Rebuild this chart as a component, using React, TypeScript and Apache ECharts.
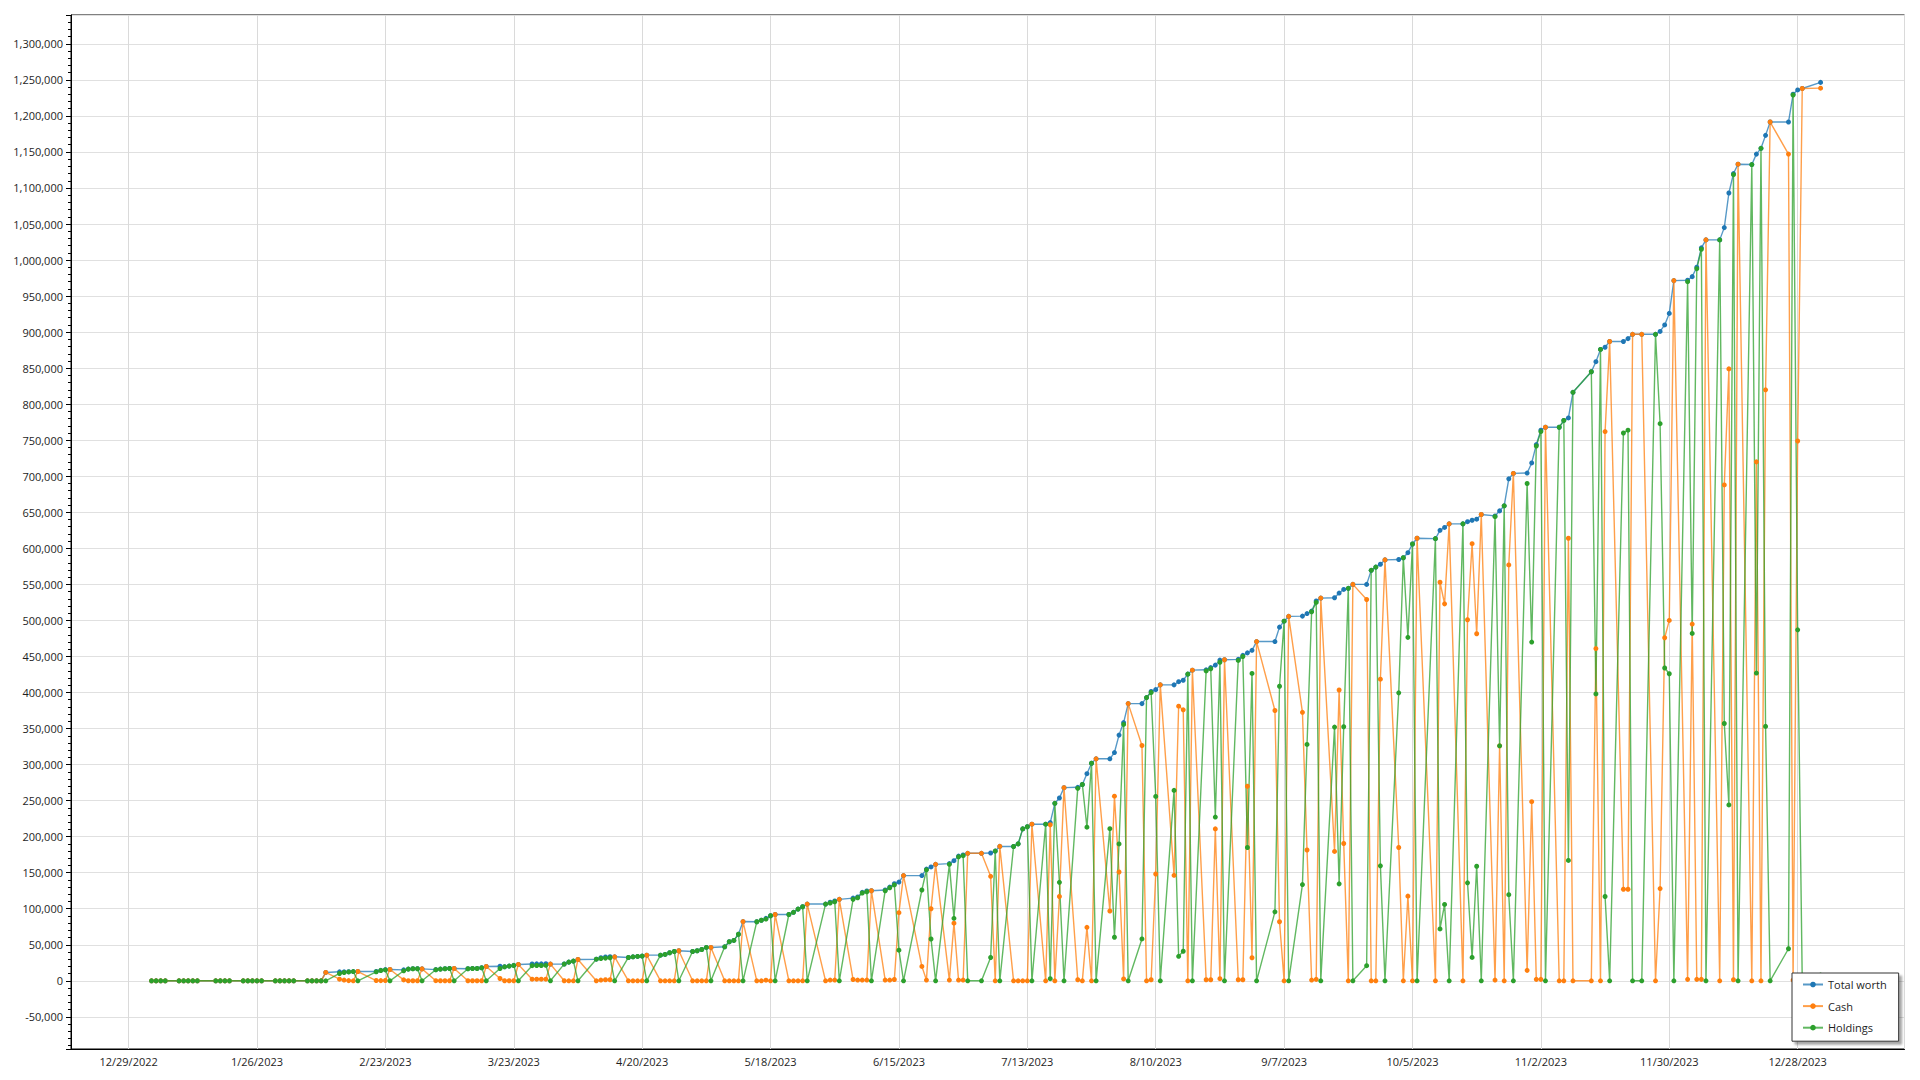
import React, { useEffect, useRef } from "react";
import * as echarts from "echarts";

// Trading days shown in the chart
const dates: string[] = [
  "1/3/2023", "1/4/2023", "1/5/2023", "1/6/2023",
  "1/9/2023", "1/10/2023", "1/11/2023", "1/12/2023", "1/13/2023",
  "1/17/2023", "1/18/2023", "1/19/2023", "1/20/2023",
  "1/23/2023", "1/24/2023", "1/25/2023", "1/26/2023", "1/27/2023",
  "1/30/2023", "1/31/2023", "2/1/2023", "2/2/2023", "2/3/2023",
  "2/6/2023", "2/7/2023", "2/8/2023", "2/9/2023", "2/10/2023",
  "2/13/2023", "2/14/2023", "2/15/2023", "2/16/2023", "2/17/2023",
  "2/21/2023", "2/22/2023", "2/23/2023", "2/24/2023",
  "2/27/2023", "2/28/2023", "3/1/2023", "3/2/2023", "3/3/2023",
  "3/6/2023", "3/7/2023", "3/8/2023", "3/9/2023", "3/10/2023",
  "3/13/2023", "3/14/2023", "3/15/2023", "3/16/2023", "3/17/2023",
  "3/20/2023", "3/21/2023", "3/22/2023", "3/23/2023", "3/24/2023",
  "3/27/2023", "3/28/2023", "3/29/2023", "3/30/2023", "3/31/2023",
  "4/3/2023", "4/4/2023", "4/5/2023", "4/6/2023",
  "4/10/2023", "4/11/2023", "4/12/2023", "4/13/2023", "4/14/2023",
  "4/17/2023", "4/18/2023", "4/19/2023", "4/20/2023", "4/21/2023",
  "4/24/2023", "4/25/2023", "4/26/2023", "4/27/2023", "4/28/2023",
  "5/1/2023", "5/2/2023", "5/3/2023", "5/4/2023", "5/5/2023",
  "5/8/2023", "5/9/2023", "5/10/2023", "5/11/2023", "5/12/2023",
  "5/15/2023", "5/16/2023", "5/17/2023", "5/18/2023", "5/19/2023",
  "5/22/2023", "5/23/2023", "5/24/2023", "5/25/2023", "5/26/2023",
  "5/30/2023", "5/31/2023", "6/1/2023", "6/2/2023",
  "6/5/2023", "6/6/2023", "6/7/2023", "6/8/2023", "6/9/2023",
  "6/12/2023", "6/13/2023", "6/14/2023", "6/15/2023", "6/16/2023",
  "6/20/2023", "6/21/2023", "6/22/2023", "6/23/2023",
  "6/26/2023", "6/27/2023", "6/28/2023", "6/29/2023", "6/30/2023",
  "7/3/2023", "7/5/2023", "7/6/2023", "7/7/2023",
  "7/10/2023", "7/11/2023", "7/12/2023", "7/13/2023", "7/14/2023",
  "7/17/2023", "7/18/2023", "7/19/2023", "7/20/2023", "7/21/2023",
  "7/24/2023", "7/25/2023", "7/26/2023", "7/27/2023", "7/28/2023",
  "7/31/2023", "8/1/2023", "8/2/2023", "8/3/2023", "8/4/2023",
  "8/7/2023", "8/8/2023", "8/9/2023", "8/10/2023", "8/11/2023",
  "8/14/2023", "8/15/2023", "8/16/2023", "8/17/2023", "8/18/2023",
  "8/21/2023", "8/22/2023", "8/23/2023", "8/24/2023", "8/25/2023",
  "8/28/2023", "8/29/2023", "8/30/2023", "8/31/2023", "9/1/2023",
  "9/5/2023", "9/6/2023", "9/7/2023", "9/8/2023",
  "9/11/2023", "9/12/2023", "9/13/2023", "9/14/2023", "9/15/2023",
  "9/18/2023", "9/19/2023", "9/20/2023", "9/21/2023", "9/22/2023",
  "9/25/2023", "9/26/2023", "9/27/2023", "9/28/2023", "9/29/2023",
  "10/2/2023", "10/3/2023", "10/4/2023", "10/5/2023", "10/6/2023",
  "10/10/2023", "10/11/2023", "10/12/2023", "10/13/2023",
  "10/16/2023", "10/17/2023", "10/18/2023", "10/19/2023", "10/20/2023",
  "10/23/2023", "10/24/2023", "10/25/2023", "10/26/2023", "10/27/2023",
  "10/30/2023", "10/31/2023", "11/1/2023", "11/2/2023", "11/3/2023",
  "11/6/2023", "11/7/2023", "11/8/2023", "11/9/2023",
  "11/13/2023", "11/14/2023", "11/15/2023", "11/16/2023", "11/17/2023",
  "11/20/2023", "11/21/2023", "11/22/2023", "11/24/2023",
  "11/27/2023", "11/28/2023", "11/29/2023", "11/30/2023", "12/1/2023",
  "12/4/2023", "12/5/2023", "12/6/2023", "12/7/2023", "12/8/2023",
  "12/11/2023", "12/12/2023", "12/13/2023", "12/14/2023", "12/15/2023",
  "12/18/2023", "12/19/2023", "12/20/2023", "12/21/2023", "12/22/2023",
  "12/26/2023", "12/27/2023", "12/28/2023", "12/29/2023",
  "1/2/2024",
];

const totalWorth: number[] = [
  0, 0, 0, 0,
  0, 0, 0, 0, 0,
  0, 0, 0, 0,
  0, 0, 0, 0, 0,
  0, 0, 0, 0, 0,
  0, 0, 0, 0, 11600,
  12500, 12500, 12600, 12800, 12900,
  12900, 14600, 15500, 15700,
  15200, 16300, 16800, 16800, 16600,
  15500, 16300, 16800, 17200, 17100,
  16800, 17200, 17200, 18100, 19900,
  20300, 19500, 20500, 21400, 22700,
  23300, 23500, 23500, 23800, 23200,
  23300, 25900, 27300, 29600,
  30000, 32000, 33000, 33500, 33300,
  32400, 33300, 33800, 34300, 35600,
  35600, 36600, 38900, 40700, 41700,
  40700, 41700, 43500, 46300, 46300,
  47200, 54200, 56000, 64600, 82200,
  82000, 84000, 86600, 90300, 92000,
  92000, 95000, 99500, 102800, 106500,
  106500, 109000, 110700, 113000,
  114800, 116300, 122800, 124600, 125000,
  126000, 130000, 134800, 137000, 146000,
  146000, 155000, 158000, 161600,
  162600, 166700, 173000, 174600, 176900,
  176900, 177300, 180000, 186500,
  186400, 190000, 210800, 213800, 217300,
  217300, 219500, 246200, 253600, 268000,
  268500, 272400, 287400, 301900, 308000,
  308000, 316700, 340900, 358300, 384600,
  384600, 393000, 401500, 404000, 410600,
  410600, 415000, 417000, 425500, 431000,
  431500, 434500, 438000, 445000, 445500,
  446000, 451500, 455000, 458500, 470700,
  470700, 490700, 499000, 505600,
  506000, 509500, 513000, 527000, 531000,
  531500, 538000, 543000, 544500, 550000,
  550000, 569500, 574000, 578000, 584000,
  584500, 587000, 594000, 606000, 614000,
  613500, 625000, 629000, 634000,
  634000, 637000, 639000, 640500, 647000,
  645000, 652000, 659000, 696500, 704000,
  704500, 718500, 744000, 764000, 768000,
  768000, 777500, 781000, 816500,
  845000, 859000, 876000, 879000, 887000,
  887000, 891000, 897000, 897000,
  897000, 901000, 910000, 926000, 971500,
  972000, 977000, 990000, 1017000, 1028000,
  1028000, 1045000, 1093000, 1120000, 1133000,
  1132500, 1147000, 1155000, 1173000, 1191500,
  1191500, 1230000, 1236000, 1238000,
  1246500,
];

const cash: number[] = [
  0, 0, 0, 0,
  0, 0, 0, 0, 0,
  0, 0, 0, 0,
  0, 0, 0, 0, 0,
  0, 0, 0, 0, 0,
  0, 0, 0, 0, 11600,
  2300, 1000, 300, 0, 12900,
  400, 300, 400, 15700,
  1300, 100, 100, 100, 16600,
  200, 100, 100, 100, 17100,
  100, 100, 100, 100, 19900,
  3200, 100, 100, 100, 22700,
  2300, 2300, 2300, 2300, 23200,
  100, 0, 0, 29600,
  0, 1000, 1500, 1500, 33300,
  0, 0, 0, 0, 35600,
  0, 0, 0, 0, 41700,
  0, 0, 0, 0, 46300,
  0, 0, 0, 0, 82200,
  0, 0, 900, 0, 92000,
  0, 0, 0, 0, 106500,
  0, 1000, 1000, 113000,
  1800, 1000, 1000, 1000, 125000,
  1000, 1000, 1800, 94500, 146000,
  20000, 1000, 100000, 161600,
  1000, 80000, 1000, 1000, 176900,
  176900, 145000, 0, 186500,
  0, 0, 0, 0, 217300,
  0, 216500, 0, 117000, 268000,
  1500, 0, 74200, 0, 308000,
  96900, 256200, 151000, 2600, 384600,
  326500, 0, 1500, 148200, 410600,
  146400, 381000, 376000, 0, 431000,
  1500, 1500, 210800, 3000, 445500,
  1500, 1500, 270000, 32000, 470700,
  375000, 82000, 0, 505600,
  372500, 181500, 1000, 2000, 531000,
  179500, 403500, 190500, 0, 550000,
  529000, 0, 0, 418500, 584000,
  185000, 0, 117500, 0, 614000,
  0, 553000, 523000, 634000,
  0, 501000, 606500, 481500, 647000,
  1000, 326000, 0, 577000, 704000,
  14500, 248500, 2000, 2000, 768000,
  0, 0, 614000, 0,
  0, 461000, 0, 762000, 887000,
  127000, 127000, 897000, 897000,
  0, 128000, 476000, 500000, 971500,
  2000, 495000, 2000, 2000, 1028000,
  0, 688000, 849000, 1500, 1133000,
  0, 720000, 0, 820000, 1191500,
  1147000, 1000, 749000, 1238000,
  1238500,
];

const holdings: number[] = [
  0, 0, 0, 0,
  0, 0, 0, 0, 0,
  0, 0, 0, 0,
  0, 0, 0, 0, 0,
  0, 0, 0, 0, 0,
  0, 0, 0, 0, 0,
  10200, 11500, 12300, 12800, 0,
  12500, 14300, 15100, 0,
  13900, 16200, 16700, 16700, 0,
  15300, 16200, 16700, 17100, 0,
  16700, 17100, 17100, 18000, 0,
  17100, 19400, 20400, 21300, 0,
  21000, 21200, 21200, 21500, 0,
  23200, 25900, 27300, 0,
  30000, 31000, 31500, 32000, 0,
  32400, 33300, 33800, 34300, 0,
  35600, 36600, 38900, 40700, 0,
  40700, 41700, 43500, 46300, 0,
  47200, 54200, 56000, 64600, 0,
  82000, 84000, 85700, 90300, 0,
  92000, 95000, 99500, 102800, 0,
  106500, 108000, 109700, 0,
  113000, 115300, 121800, 123600, 0,
  125000, 129000, 133000, 42500, 0,
  126000, 154000, 58000, 0,
  161600, 86700, 172000, 173600, 0,
  0, 32300, 180000, 0,
  186400, 190000, 210800, 213800, 0,
  217300, 3000, 246200, 136600, 0,
  267000, 272400, 213200, 301900, 0,
  211100, 60500, 189900, 355700, 0,
  58100, 393000, 400000, 255800, 0,
  264200, 34000, 41000, 425500, 0,
  430000, 433000, 227200, 442000, 0,
  444500, 450000, 185000, 426500, 0,
  95700, 408700, 499000, 0,
  133500, 328000, 512000, 525000, 0,
  352000, 134500, 352500, 544500, 0,
  21000, 569500, 574000, 159500, 0,
  399500, 587000, 476500, 606000, 0,
  613500, 72000, 106000, 0,
  634000, 136000, 32500, 159000, 0,
  644000, 326000, 659000, 119500, 0,
  690000, 470000, 742000, 762000, 0,
  768000, 777500, 167000, 816500,
  845000, 398000, 876000, 117000, 0,
  760000, 764000, 0, 0,
  897000, 773000, 434000, 426000, 0,
  970000, 482000, 988000, 1015000, 0,
  1028000, 357000, 244000, 1118500, 0,
  1132500, 427000, 1155000, 353000, 0,
  44500, 1229000, 487000, 0,
  8000,
];

const seriesNames = ["Total worth", "Cash", "Holdings"];
const seriesColors = ["#1f77b4", "#ff7f0e", "#2ca02c"];

// X axis: ticks every 28 days counted from this date
const axisOrigin = "12/29/2022";
const periodDays = 28;
const xMinDays = -12.56;
const xMaxDays = 387.3;
const yMin = -94600;
const yMax = 1340000;
const yStep = 50000;

const DAY_MS = 86400000;
const parseDate = (s: string) => {
  const [m, d, y] = s.split("/").map(Number);
  return Date.UTC(y, m - 1, d);
};
const originMs = parseDate(axisOrigin);
const toPeriods = (s: string) => (parseDate(s) - originMs) / DAY_MS / periodDays;
const formatPeriod = (v: number) => {
  const r = Math.round(v);
  if (Math.abs(v - r) > 1e-6) return "";
  const dt = new Date(originMs + r * periodDays * DAY_MS);
  return `${dt.getUTCMonth() + 1}/${dt.getUTCDate()}/${dt.getUTCFullYear()}`;
};
const formatValue = (v: number) =>
  Math.abs(v % yStep) > 1e-6 ? "" : v.toLocaleString("en-US");

const FONT = "'Open Sans', 'Liberation Sans', sans-serif";

export default function App() {
  const ref = useRef<HTMLDivElement>(null);

  useEffect(() => {
    if (!ref.current) return;
    const chart = echarts.init(ref.current, undefined, { renderer: "svg" });
    const valueSets = [totalWorth, cash, holdings];
    const n = dates.length;

    const series = seriesNames.map((name, i) => ({
      name,
      type: "line",
      data: dates.slice(0, n).map((d, k) => [toPeriods(d), valueSets[i][k]]),
      symbol: "circle",
      symbolSize: 5,
      showSymbol: true,
      lineStyle: { width: 1.4, color: seriesColors[i], opacity: 0.75 },
      itemStyle: { color: seriesColors[i] },
      emphasis: { disabled: true },
      silent: true,
    }));

    chart.setOption({
      animation: false,
      backgroundColor: "#ffffff",
      grid: {
        left: 71,
        right: 15.5,
        top: 15,
        bottom: 31,
        show: true,
        borderColor: "#000000",
        borderWidth: 1,
        backgroundColor: "transparent",
      },
      xAxis: {
        type: "value",
        min: xMinDays / periodDays,
        max: xMaxDays / periodDays,
        splitNumber: 14,
        axisLine: { show: true, onZero: false, lineStyle: { color: "#000000", width: 1 } },
        axisTick: { show: false },
        axisLabel: {
          formatter: formatPeriod,
          fontFamily: FONT,
          fontSize: 11,
          color: "#1e1e1e",
          margin: 7,
          hideOverlap: false,
        },
        splitLine: { show: true, lineStyle: { color: "#dadada", width: 1 } },
      },
      yAxis: {
        type: "value",
        min: yMin,
        max: yMax,
        splitNumber: 29,
        axisLine: { show: true, onZero: false, lineStyle: { color: "#000000", width: 1 } },
        axisTick: { show: true, inside: false, length: 5, lineStyle: { color: "#000000" } },
        minorTick: { show: true, splitNumber: 5, length: 3, lineStyle: { color: "#000000" } },
        axisLabel: {
          formatter: formatValue,
          fontFamily: FONT,
          fontSize: 11,
          color: "#1e1e1e",
          margin: 8,
        },
        splitLine: { show: true, lineStyle: { color: "#e0e0e0", width: 1 } },
        minorSplitLine: { show: false },
      },
      legend: {
        data: seriesNames,
        orient: "vertical",
        left: 1792,
        top: 973,
        padding: [6, 12, 8, 10],
        itemGap: 10.6,
        itemWidth: 20,
        itemHeight: 7,
        align: "left",
        selectedMode: false,
        backgroundColor: "#ffffff",
        borderColor: "#333333",
        borderWidth: 1,
        shadowColor: "rgba(0,0,0,0.35)",
        shadowBlur: 2,
        shadowOffsetX: 3,
        shadowOffsetY: 3,
        textStyle: { fontFamily: FONT, fontSize: 11, color: "#1e1e1e" },
      },
      series,
    });

    return () => chart.dispose();
  }, []);

  return (
    <div
      ref={ref}
      style={{ position: "fixed", left: 0, top: 0, width: 1920, height: 1080, background: "#ffffff" }}
    />
  );
}
